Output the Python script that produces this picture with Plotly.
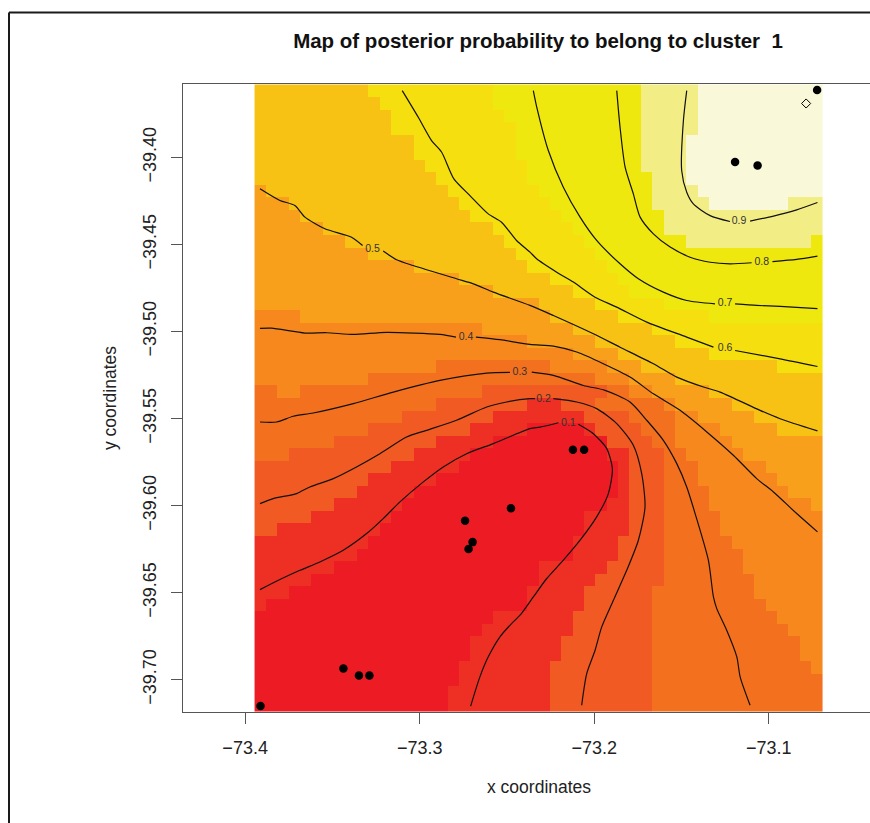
import plotly.graph_objects as go

# Colour bands of the posterior-probability map, lowest to highest
BAND_COLORS = ["#ED1C24", "#EE2F24", "#F15A22", "#F3701F", "#F7881E", "#F8A01B",
               "#F9B316", "#F8C214", "#F6DF0E", "#EEE80F", "#F2EE85", "#F9F8D8"]

# Grid extent (50 x 50 cells)
GRID_WEST, GRID_EAST = -73.3946, -73.0690
GRID_NORTH, GRID_SOUTH = -39.3581, -39.7186

# Each row, north to south: band, end column, band, end column ...
ROW_RUNS = [
    [7,10,8,21,9,34,10,39,11,50],
    [7,11,8,21,9,34,10,39,11,50],
    [7,12,8,22,9,34,10,39,11,50],
    [7,12,8,23,9,34,10,39,11,50],
    [7,14,8,23,9,34,10,38,11,50],
    [7,14,8,23,9,34,10,38,11,50],
    [7,15,8,24,9,34,10,38,11,50],
    [7,16,8,24,9,35,10,38,11,50],
    [5,1,7,17,8,25,9,35,10,39,11,50],
    [5,3,7,18,8,26,9,35,10,40,11,47,10,50],
    [5,4,7,19,8,27,9,36,10,50],
    [5,6,7,21,8,28,9,36,10,50],
    [5,8,7,22,8,29,9,38,10,49,9,50],
    [5,10,7,23,8,30,9,50],
    [5,14,7,24,8,31,9,50],
    [5,18,7,26,8,32,9,50],
    [5,21,7,28,8,33,9,50],
    [5,25,7,30,8,36,9,50],
    [4,4,5,26,7,32,8,40,9,50],
    [4,20,5,28,7,35,8,50],
    [4,24,5,30,7,37,8,50],
    [4,28,5,32,7,40,8,50],
    [4,16,3,26,4,31,5,34,7,46,8,50],
    [4,10,3,30,4,33,5,37,7,50],
    [3,2,4,4,3,20,2,31,3,33,4,35,5,40,7,50],
    [3,16,2,24,1,27,2,30,3,36,4,37,5,42,7,50],
    [3,13,2,21,1,29,2,33,3,37,4,39,5,44,7,50],
    [3,10,2,19,1,24,0,29,1,30,2,34,3,37,4,41,5,46,7,50],
    [3,7,2,16,1,21,0,31,2,35,3,37,4,42,5,50],
    [3,3,2,14,1,19,0,31,1,33,2,36,3,38,4,43,5,50],
    [2,12,1,18,0,32,1,33,2,36,3,39,4,45,5,50],
    [2,10,1,16,0,32,1,33,2,36,3,39,4,46,5,50],
    [2,9,1,14,0,32,1,33,2,36,3,40,4,47,5,50],
    [2,7,1,13,0,31,1,33,2,36,3,40,4,49,5,50],
    [2,5,1,12,0,29,1,33,2,36,3,41,4,50],
    [2,2,1,11,0,29,1,33,2,36,3,41,4,50],
    [1,10,0,28,1,32,2,36,3,42,4,50],
    [1,9,0,28,1,32,2,36,3,43,4,50],
    [1,7,0,25,1,31,2,36,3,43,4,50],
    [1,5,0,25,1,30,2,36,3,44,4,50],
    [1,3,0,24,1,29,2,35,3,44,4,50],
    [1,1,0,24,1,29,2,35,3,45,4,50],
    [0,21,1,28,2,35,3,46,4,50],
    [0,20,1,28,2,35,3,47,4,50],
    [0,19,1,27,2,35,3,48,4,50],
    [0,19,1,27,2,35,3,48,4,50],
    [0,18,1,26,2,35,3,49,4,50],
    [0,18,1,26,2,35,3,50],
    [0,17,1,26,2,35,3,50],
    [0,17,1,26,2,35,3,50],
]

# Contour lines (None marks the gap left for the label)
C01_LON = [-73.3915,-73.3801,-73.3686,-73.3572,-73.3438,-73.3304,-73.3209,-73.3113,-73.2979,-73.2865,-73.2731,-73.2578,-73.2368,-73.2310,-73.2205,None,-73.2091,-73.2005,-73.1928,-73.1896,-73.1919,-73.1986,-73.2081,-73.2177,-73.2272,-73.2349,-73.2425,-73.2464,-73.2540,-73.2607,-73.2655,-73.2708]
C01_LAT = [-39.6483,-39.6425,-39.6372,-39.6324,-39.6257,-39.6161,-39.6075,-39.5979,-39.5864,-39.5778,-39.5702,-39.5644,-39.5558,-39.5549,-39.5524,None,-39.5533,-39.5587,-39.5673,-39.5788,-39.5931,-39.6065,-39.6199,-39.6314,-39.6419,-39.6525,-39.6630,-39.6668,-39.6754,-39.6869,-39.6984,-39.7152]
C02_LON = [-73.3915,-73.3839,-73.3705,-73.3629,-73.3495,-73.3362,-73.3228,-73.3075,-73.2961,-73.2789,-73.2616,-73.2502,-73.2368,-73.2339,None,-73.2234,-73.2100,-73.1986,-73.1871,-73.1776,-73.1728,-73.1709,-73.1747,-73.1814,-73.1890,-73.1957,-73.1995,-73.2043,-73.2072]
C02_LAT = [-39.5989,-39.5960,-39.5931,-39.5893,-39.5845,-39.5778,-39.5702,-39.5606,-39.5568,-39.5510,-39.5434,-39.5405,-39.5386,-39.5386,None,-39.5386,-39.5405,-39.5443,-39.5529,-39.5654,-39.5817,-39.6008,-39.6199,-39.6372,-39.6544,-39.6697,-39.6831,-39.6965,-39.7147]
C03_LON = [-73.3915,-73.3820,-73.3724,-73.3610,-73.3380,-73.3151,-73.2884,-73.2616,-73.2483,None,-73.2358,-73.2234,-73.2062,-73.1938,-73.1795,-73.1699,-73.1604,-73.1527,-73.1470,-73.1422,-73.1346,-73.1317,-73.1298,-73.1241,-73.1183,-73.1164,-73.1107]
C03_LAT = [-39.5520,-39.5520,-39.5487,-39.5468,-39.5414,-39.5348,-39.5281,-39.5239,-39.5235,None,-39.5233,-39.5252,-39.5310,-39.5338,-39.5405,-39.5510,-39.5625,-39.5759,-39.5893,-39.6046,-39.6314,-39.6525,-39.6592,-39.6716,-39.6869,-39.6984,-39.7147]
C04_LON = [-73.3915,-73.3849,-73.3657,-73.3533,-73.3380,-73.3190,-73.2884,-73.2792,None,-73.2678,-73.2540,-73.2368,-73.2234,-73.2100,-73.1948,-73.1795,-73.1661,-73.1508,-73.1355,-73.1203,-73.1069,-73.0973,-73.0840,-73.0721]
C04_LAT = [-39.4982,-39.4981,-39.5009,-39.5007,-39.5017,-39.5005,-39.5017,-39.5032,None,-39.5032,-39.5047,-39.5074,-39.5084,-39.5118,-39.5185,-39.5262,-39.5358,-39.5453,-39.5577,-39.5711,-39.5845,-39.5922,-39.6046,-39.6151]
C05_LON = [-73.3915,-73.3801,-73.3715,-73.3657,-73.3543,-73.3390,-73.3327,None,-73.3209,-73.3132,-73.3037,-73.2789,-73.2693,-73.2578,-73.2368,-73.2234,-73.2005,-73.1852,-73.1661,-73.1527,-73.1374,-73.1279,-73.1050,-73.0935,-73.0721]
C05_LAT = [-39.4180,-39.4247,-39.4276,-39.4343,-39.4410,-39.4458,-39.4506,None,-39.4538,-39.4588,-39.4621,-39.4697,-39.4726,-39.4774,-39.4850,-39.4908,-39.5013,-39.5090,-39.5185,-39.5262,-39.5319,-39.5348,-39.5453,-39.5501,-39.5571]
C06_LON = [-73.3100,-73.3008,-73.2932,-73.2874,-73.2804,-73.2712,-73.2607,-73.2531,-73.2445,-73.2368,-73.2330,-73.2215,-73.2120,-73.1995,-73.1871,-73.1699,-73.1470,-73.1317,None,-73.1193,-73.0935,-73.0721]
C06_LAT = [-39.3616,-39.3769,-39.3903,-39.3970,-39.4123,-39.4219,-39.4324,-39.4372,-39.4477,-39.4544,-39.4582,-39.4659,-39.4716,-39.4803,-39.4860,-39.4946,-39.5032,-39.5090,None,-39.5109,-39.5157,-39.5201]
C07_LON = [-73.2349,-73.2329,-73.2263,-73.2177,-73.2081,-73.1986,-73.1852,-73.1747,-73.1604,-73.1470,-73.1308,None,-73.1193,-73.1069,-73.0935,-73.0721]
C07_LAT = [-39.3616,-39.3712,-39.3960,-39.4171,-39.4343,-39.4477,-39.4611,-39.4697,-39.4774,-39.4822,-39.4841,None,-39.4841,-39.4850,-39.4856,-39.4868]
C08_LON = [-73.1871,-73.1852,-73.1823,-73.1776,-73.1737,-73.1661,-73.1565,-73.1451,-73.1336,-73.1222,-73.1098,None,-73.0979,-73.0840,-73.0721]
C08_LAT = [-39.3616,-39.3826,-39.4056,-39.4209,-39.4343,-39.4439,-39.4515,-39.4573,-39.4602,-39.4611,-39.4605,None,-39.4598,-39.4586,-39.4567]
C09_LON = [-73.1470,-73.1489,-73.1499,-73.1470,-73.1432,-73.1336,-73.1222,None,-73.1107,-73.0973,-73.0840,-73.0721]
C09_LAT = [-39.3616,-39.3788,-39.4075,-39.4200,-39.4267,-39.4334,-39.4368,None,-39.4366,-39.4337,-39.4301,-39.4259]

CONTOUR_LINES = [(C01_LON,C01_LAT),(C02_LON,C02_LAT),(C03_LON,C03_LAT),(C04_LON,C04_LAT),(C05_LON,C05_LAT),
                 (C06_LON,C06_LAT),(C07_LON,C07_LAT),(C08_LON,C08_LAT),(C09_LON,C09_LAT)]

LABEL_TEXT = ["0.1","0.2","0.3","0.4","0.5","0.6","0.7","0.8","0.9"]
LABEL_LON = [-73.2148,-73.2291,-73.2426,-73.2735,-73.3270,-73.1250,-73.1250,-73.1040,-73.1170]
LABEL_LAT = [-39.5529,-39.5390,-39.5235,-39.5032,-39.4529,-39.5099,-39.4841,-39.4602,-39.4367]

# Sample sites
POINT_LON = [-73.0723,-73.1193,-73.1064,-73.2122,-73.2058,-73.2477,-73.2740,-73.2697,-73.2720,-73.3437,-73.3348,-73.3288,-73.3912]
POINT_LAT = [-39.3613,-39.4026,-39.4046,-39.5679,-39.5679,-39.6015,-39.6087,-39.6210,-39.6250,-39.6936,-39.6976,-39.6976,-39.7152]
MODE_LON = [-73.0786]
MODE_LAT = [-39.3690]

X_TICKS = [-73.4,-73.3,-73.2,-73.1]
Y_TICKS = [-39.40,-39.45,-39.50,-39.55,-39.60,-39.65,-39.70]
TITLE = "Map of posterior probability to belong to cluster  1"
X_TITLE = "x coordinates"
Y_TITLE = "y coordinates"

FONT = "Liberation Sans"
AXIS_GREY = "#555555"

z = []
for runs in ROW_RUNS:
    row, start = [], 0
    for band, end in zip(runs[0::2], runs[1::2]):
        row += [band] * (end - start)
        start = end
    z.append(row)

n = len(BAND_COLORS)
scale = []
for i, c in enumerate(BAND_COLORS):
    scale += [[i / n, c], [(i + 1) / n, c]]

dlon = (GRID_EAST - GRID_WEST) / 50
dlat = (GRID_SOUTH - GRID_NORTH) / 50

fig = go.Figure()
fig.add_trace(go.Heatmap(z=z, x0=GRID_WEST + dlon / 2, dx=dlon, y0=GRID_NORTH + dlat / 2, dy=dlat,
                         zmin=-0.5, zmax=n - 0.5, colorscale=scale, showscale=False, hoverinfo="skip"))
for lon, lat in CONTOUR_LINES:
    fig.add_trace(go.Scatter(x=lon, y=lat, mode="lines", connectgaps=False,
                             line=dict(color="#111111", width=1.2, shape="spline", smoothing=0.7), showlegend=False))
fig.add_trace(go.Scatter(x=LABEL_LON, y=LABEL_LAT, text=LABEL_TEXT, mode="text", showlegend=False,
                         textfont=dict(family=FONT, size=10.5, color="#333333")))
fig.add_trace(go.Scatter(x=POINT_LON, y=POINT_LAT, mode="markers", showlegend=False,
                         marker=dict(color="black", size=8.5)))
fig.add_trace(go.Scatter(x=MODE_LON, y=MODE_LAT, mode="markers", showlegend=False,
                         marker=dict(symbol="diamond-open", color="black", size=7, line=dict(width=1))))

PLOT_L, PLOT_T, PLOT_B = 183, 83.5, 712
W, H = 870, 823
PH = PLOT_B - PLOT_T
PW = W - PLOT_L
FRAME_X = (9 - PLOT_L) / PW
FRAME_TOP = (PLOT_B - 12) / PH

fig.update_layout(
    width=W, height=H, autosize=False,
    margin=dict(l=PLOT_L, r=0, t=PLOT_T, b=H - PLOT_B, pad=0),
    paper_bgcolor="white", plot_bgcolor="white", showlegend=False,
    font=dict(family=FONT, color="#222222"),
    title=dict(text="<b>" + TITLE + "</b>", font=dict(family=FONT, size=20.5, color="#111111"),
               x=(538 - PLOT_L) / PW, xref="paper", xanchor="center",
               y=1 - 41 / H, yref="container", yanchor="middle"),
    xaxis=dict(range=[-73.4356, -73.042], tickvals=X_TICKS, tickformat=".1f", showgrid=False, zeroline=False,
               showline=True, mirror=True, linecolor=AXIS_GREY, linewidth=1.2, ticks="outside", ticklen=11,
               tickcolor=AXIS_GREY, tickfont=dict(family=FONT, size=18), ticklabelstandoff=8, automargin=False),
    yaxis=dict(range=[-39.7186, -39.3578], tickvals=Y_TICKS, tickformat=".2f", tickangle=-90, showgrid=False,
               zeroline=False, showline=True, linecolor=AXIS_GREY, linewidth=1.2, ticks="outside", ticklen=11,
               tickcolor=AXIS_GREY, tickfont=dict(family=FONT, size=18), ticklabelstandoff=8,
               title=dict(text=Y_TITLE, font=dict(family=FONT, size=17.5), standoff=18), automargin=False),
    annotations=[dict(text=X_TITLE, xref="paper", yref="paper", x=(539 - PLOT_L) / PW, y=(PLOT_B - 787) / PH,
                      xanchor="center", yanchor="middle", showarrow=False,
                      font=dict(family=FONT, size=17.5, color="#222222"))],
    shapes=[
        dict(type="line", xref="paper", yref="paper", x0=FRAME_X, x1=1,
             y0=FRAME_TOP, y1=FRAME_TOP, line=dict(color="#1a1a1a", width=2)),
        dict(type="line", xref="paper", yref="paper", x0=FRAME_X, x1=FRAME_X,
             y0=FRAME_TOP, y1=(PLOT_B - H) / PH, line=dict(color="#1a1a1a", width=2)),
    ],
)
fig.write_html("out.html", config={"displayModeBar": False},
               post_script="document.body.style.margin='0';document.body.style.overflow='hidden';")
